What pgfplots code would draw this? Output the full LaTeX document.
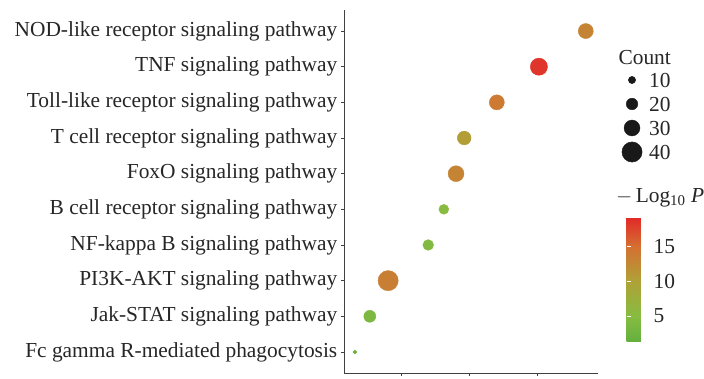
\documentclass[border=0pt]{standalone}
\usepackage{fontspec}
\setmainfont{Liberation Serif}
\usepackage{pgfplots}
\pgfplotsset{compat=1.18}
\usepackage{pgfplotstable}
\newcommand\lf{\fontsize{21.4}{24}\selectfont}
\pgfplotstableread{
x y count logp
0.132 1 2 2.0
0.154 2 21 4.0
0.181 3 40 13.5
0.240 4 18 4.5
0.263 5 16 5.0
0.281 6 30 13.0
0.293 7 25 10.5
0.341 8 28 14.0
0.403 9 33 18.5
0.472 10 28 13.0
}\datatable
\pgfplotstableread{
x y count
0 10 10
0 20 20
0 30 30
0 40 40
}\legtable
\pgfplotsset{colormap={kegg}{rgb255(0)=(100,176,62) rgb255(36)=(135,188,65) rgb255(86)=(175,162,55) rgb255(136)=(212,112,50) rgb255(179)=(226,40,40)}}
\begin{document}
\begin{tikzpicture}
\path[use as bounding box] (0,0) rectangle (704pt,378pt);
\begin{axis}[at={(344pt,5pt)}, anchor=south west, scale only axis,
  width=254pt, height=363pt,
  xmin=0.116, xmax=0.49, ymin=0.41, ymax=10.59,
  axis lines=left, axis line style={-, draw=black!75, line width=0.8pt},
  xtick={0.2,0.3,0.4}, xticklabels={},
  ytick={1,...,10},
  yticklabels={Fc gamma R-mediated phagocytosis, Jak-STAT signaling pathway, PI3K-AKT signaling pathway, NF-kappa B signaling pathway, B cell receptor signaling pathway, FoxO signaling pathway, T cell receptor signaling pathway, Toll-like receptor signaling pathway, TNF signaling pathway, NOD-like receptor signaling pathway},
  tick align=outside, major tick length=3pt, tick style={black!75, line width=0.6pt},
  yticklabel style={font=\lf, text=black!85, inner sep=3.5pt},
  colormap name=kegg, point meta min=1.4, point meta max=19.3,
  colorbar,
  colorbar style={at={(parent axis.south east)}, anchor=south west,
    xshift=20pt, yshift=32pt, width=25pt, height=124pt,
    ytick={5,10,15}, ytick pos=both, yticklabel pos=right, tick align=inside,
    major tick length=4pt, tick style={white, line width=0.8pt},
    axis line style={draw=none},
    yticklabel style={font=\lf, text=black!85, inner sep=2pt, xshift=0pt},
    /pgf/number format/assume math mode=true,
    title={\lf $-$\,Log\textsubscript{10} \textit{P}},
    title style={at={(0,1)}, anchor=south west, xshift=-14pt, yshift=0pt, text=black!85}},
]
\addplot[scatter, only marks, mark=*, point meta=explicit,
  scatter/use mapped color={draw=mapped color, fill=mapped color},
  visualization depends on={0.215*\thisrow{count}+1.5 \as \msize},
  scatter/@pre marker code/.append style={/tikz/mark size=\msize}]
  table[x=x, y=y, meta=logp] {\datatable};
\end{axis}
\begin{axis}[at={(627pt,226pt)}, anchor=south west, scale only axis,
  width=10pt, height=72pt, xmin=-1, xmax=1, ymin=10, ymax=40, y dir=reverse,
  axis line style={draw=none}, xtick=\empty, ytick={10,20,30,40},
  yticklabel pos=right, major tick length=0pt, clip=false,
  yticklabel style={font=\lf, text=black!85, anchor=west, inner sep=0pt, xshift=12pt},
  /pgf/number format/assume math mode=true,
  title={\lf Count}, title style={at={(0,1)}, anchor=south west, xshift=-12pt, yshift=6pt, text=black!85}]
\addplot[scatter, only marks, mark=*, point meta=explicit,
  scatter/use mapped color={draw=black!90, fill=black!90},
  visualization depends on={0.215*\thisrow{count}+1.5 \as \msize},
  scatter/@pre marker code/.append style={/tikz/mark size=\msize}]
  table[x=x, y=y, meta=count] {\legtable};
\end{axis}
\end{tikzpicture}
\end{document}
